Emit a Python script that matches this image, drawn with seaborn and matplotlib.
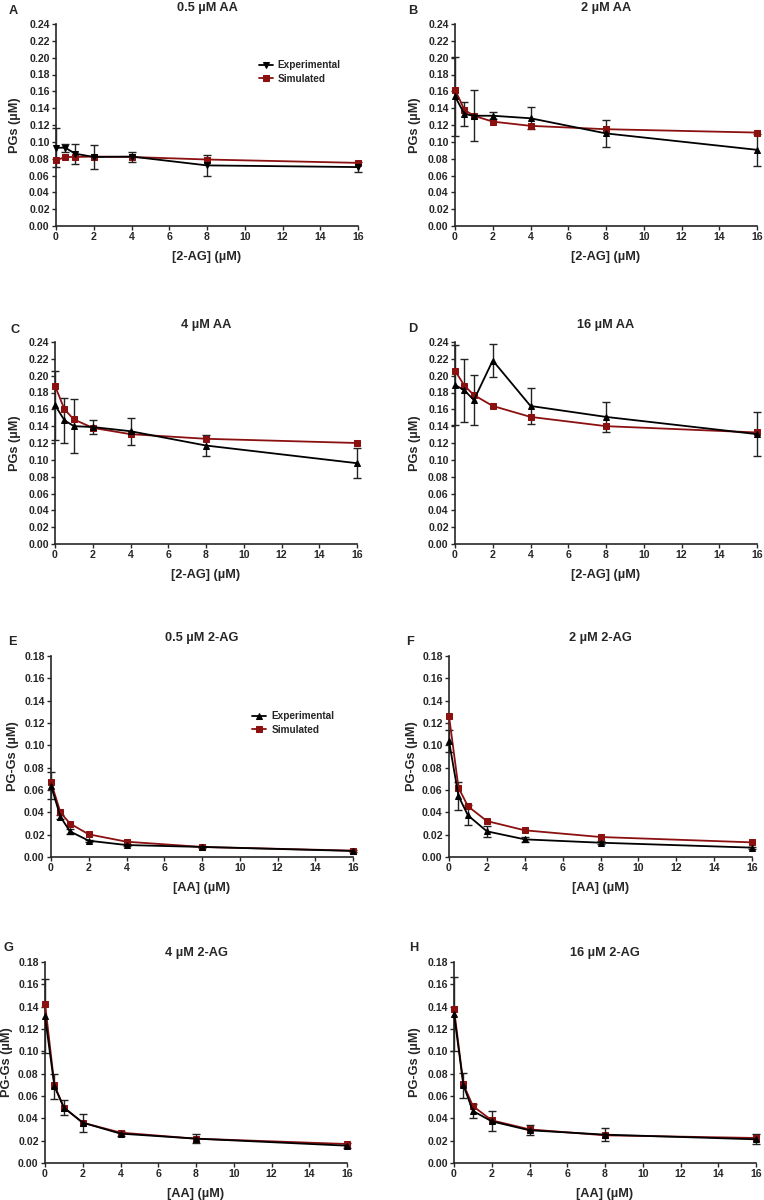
import numpy as np
import pandas as pd
import seaborn as sns
import matplotlib
matplotlib.use("Agg")
import matplotlib.pyplot as plt

sns.set_style("ticks")
plt.rcParams["font.family"] = ["Liberation Sans", "DejaVu Sans"]
plt.rcParams["font.weight"] = "bold"

conc = [0, 0.5, 1, 2, 4, 8, 16]

# panels A-D: PGs vs [2-AG] at fixed AA
exp_A = [0.093, 0.093, 0.086, 0.082, 0.0825, 0.072, 0.070]
err_A = [0.023, 0.005, 0.012, 0.014, 0.006, 0.012, 0.006]
sim_A = [0.078, 0.082, 0.082, 0.0825, 0.082, 0.079, 0.075]

exp_B = [0.154, 0.133, 0.131, 0.131, 0.128, 0.110, 0.0905]
err_B = [0.047, 0.014, 0.030, 0.004, 0.013, 0.016, 0.019]
sim_B = [0.162, 0.138, 0.131, 0.124, 0.119, 0.115, 0.111]

exp_C = [0.165, 0.147, 0.140, 0.139, 0.134, 0.117, 0.096]
err_C = [0.041, 0.027, 0.032, 0.0085, 0.016, 0.012, 0.018]
sim_C = [0.188, 0.160, 0.148, 0.138, 0.1305, 0.125, 0.120]

exp_D = [0.189, 0.1825, 0.171, 0.218, 0.164, 0.151, 0.1305]
err_D = [0.048, 0.037, 0.030, 0.020, 0.021, 0.018, 0.026]
sim_D = [0.206, 0.188, 0.177, 0.164, 0.151, 0.140, 0.1325]

# panels E-H: PG-Gs vs [AA] at fixed 2-AG
exp_E = [0.064, 0.036, 0.023, 0.0146, 0.0107, 0.009, 0.0054]
err_E = [0.012, 0.002, 0.002, 0.001, 0.001, 0.001, 0.001]
sim_E = [0.067, 0.040, 0.030, 0.0203, 0.0137, 0.009, 0.0057]

exp_F = [0.104, 0.0546, 0.0373, 0.023, 0.0158, 0.0128, 0.0084]
err_F = [0.010, 0.0126, 0.009, 0.0047, 0.002, 0.0015, 0.001]
sim_F = [0.1263, 0.0621, 0.0454, 0.0322, 0.0239, 0.0179, 0.0131]

exp_G = [0.1316, 0.0687, 0.0496, 0.0361, 0.0263, 0.0218, 0.0155]
err_G = [0.033, 0.011, 0.007, 0.008, 0.002, 0.004, 0.002]
sim_G = [0.1427, 0.0696, 0.0496, 0.0361, 0.0272, 0.0218, 0.017]

exp_H = [0.1337, 0.0696, 0.0466, 0.0373, 0.0293, 0.0254, 0.0212]
err_H = [0.033, 0.011, 0.006, 0.009, 0.0045, 0.006, 0.0045]
sim_H = [0.1382, 0.0704, 0.051, 0.0382, 0.0301, 0.0248, 0.0224]

titles = ["0.5 µM AA", "2 µM AA", "4 µM AA", "16 µM AA",
          "0.5 µM 2-AG", "2 µM 2-AG", "4 µM 2-AG", "16 µM 2-AG"]
letters = ["A", "B", "C", "D", "E", "F", "G", "H"]

panels = [(exp_A, err_A, sim_A), (exp_B, err_B, sim_B), (exp_C, err_C, sim_C),
          (exp_D, err_D, sim_D), (exp_E, err_E, sim_E), (exp_F, err_F, sim_F),
          (exp_G, err_G, sim_G), (exp_H, err_H, sim_H)]

# axes boxes in pixels: left, right, top, bottom
boxes = [(56, 358, 24, 226), (455, 757, 24, 226),
         (55, 357, 342, 544), (455, 757, 342, 544),
         (51, 353, 656, 857), (449, 752, 656, 857),
         (45, 347, 962, 1163), (454, 756, 962, 1163)]
title_y = [8, 8, 325, 325, 638, 638, 953, 953]
letter_xy = [(13, 11), (413, 11), (15, 330), (413, 329),
             (12, 642), (410, 642), (8, 948), (414, 948)]
ylab_x = [-0.136, -0.132, -0.132, -0.132, -0.126, -0.123, -0.126, -0.129]

W, H = 764, 1200
fig = plt.figure(figsize=(W / 100, H / 100), dpi=100)
red = "#8b1010"

for i, (exp, err, sim) in enumerate(panels):
    l, r, t, b = boxes[i]
    ax = fig.add_axes([l / W, 1 - b / H, (r - l) / W, (b - t) / H])
    df = pd.DataFrame({"conc": conc, "Experimental": exp, "Simulated": sim})
    tri = "v" if i == 0 else "^"
    sns.lineplot(data=df, x="conc", y="Simulated", ax=ax, color=red, marker="s",
                 markersize=5, markeredgecolor=red, linewidth=1.3, clip_on=False,
                 zorder=3, label="Simulated")
    ax.errorbar(conc, exp, yerr=err, fmt="none", ecolor="#222222", elinewidth=1.0,
                capsize=3, capthick=1.0, clip_on=False, zorder=2)
    sns.lineplot(data=df, x="conc", y="Experimental", ax=ax, color="black", marker=tri,
                 markersize=5, markeredgecolor="black", linewidth=1.3, clip_on=False,
                 zorder=4, label="Experimental")

    ax.set_xlim(0, 16)
    ax.set_xticks(np.arange(0, 17, 2))
    if i < 4:
        ax.set_ylim(0, 0.24)
        ax.set_yticks(np.arange(0, 0.2401, 0.02))
        ylabel, xlabel = "PGs (µM)", "[2-AG] (µM)"
    else:
        ax.set_ylim(0, 0.18)
        ax.set_yticks(np.arange(0, 0.1801, 0.02))
        ylabel, xlabel = "PG-Gs (µM)", "[AA] (µM)"
    ax.set_yticklabels(["%.2f" % v for v in ax.get_yticks()])
    ax.tick_params(labelsize=7.6, length=3, width=1.0, pad=1.5)
    for lab in ax.get_xticklabels() + ax.get_yticklabels():
        lab.set_fontweight("bold")
    sns.despine(ax=ax)
    for s in ["left", "bottom"]:
        ax.spines[s].set_linewidth(1.2)

    ax.set_xlabel(xlabel, fontsize=9.2, fontweight="bold", va="center")
    ax.set_ylabel(ylabel, fontsize=9.2, fontweight="bold", va="center")
    ax.xaxis.set_label_coords(0.5, -0.152)
    ax.yaxis.set_label_coords(ylab_x[i], 0.5)

    handles, labels = ax.get_legend_handles_labels()
    order = [labels.index("Experimental"), labels.index("Simulated")]
    if i in (0, 4):
        anchor = (0.655, 0.845) if i == 0 else (0.65, 0.75)
        ax.legend([handles[k] for k in order], [labels[k] for k in order],
                  loc="upper left", bbox_to_anchor=anchor, frameon=False,
                  prop={"size": 7.2, "weight": "bold"}, handlelength=1.4,
                  handletextpad=0.5, labelspacing=0.35, borderpad=0)
    else:
        ax.get_legend().remove()

    cx = (l + r) / 2 / W
    fig.text(cx, 1 - title_y[i] / H, titles[i], ha="center", va="center",
             fontsize=9.2, fontweight="bold")
    lx, ly = letter_xy[i]
    fig.text(lx / W, 1 - ly / H, letters[i], ha="center", va="center",
             fontsize=9.2, fontweight="bold")

fig.savefig("out.png", dpi=100, facecolor="white")
